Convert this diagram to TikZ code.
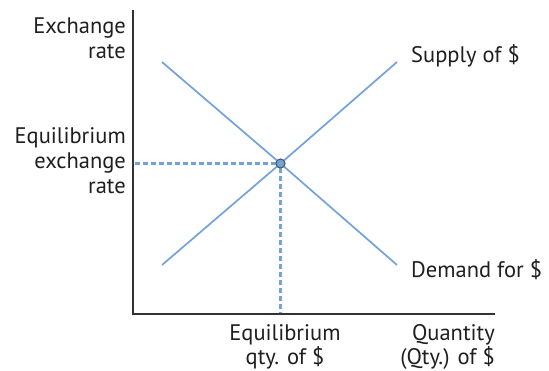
\documentclass[tikz,border=0pt]{standalone}
\usepackage{fontspec}
\setmainfont{PT Sans}
\definecolor{curve}{HTML}{72A2D9}
\definecolor{dotedge}{HTML}{4A5560}
\begin{document}
\begin{tikzpicture}[x=1pt,y=-1pt,
  lbl/.style={font=\fontsize{22.5}{25}\selectfont, text=black!88, inner sep=0pt},
  rlbl/.style={lbl, anchor=base east},
  llbl/.style={lbl, anchor=base west},
  clbl/.style={lbl, anchor=base},
  curveline/.style={draw=curve, line width=1.7pt},
  guide/.style={draw=curve, line width=2.3pt, dash pattern=on 5pt off 3pt},
  axisline/.style={draw=black!80, line width=1.2pt},
  eqdot/.style={circle, fill=curve, draw=dotedge, line width=0.9pt, minimum size=9pt, inner sep=0pt}]
\useasboundingbox (0,0) rectangle (549,370);
\coordinate (ytop) at (133,10);
\coordinate (orig) at (133,314);
\coordinate (xend) at (495,314);
\draw[axisline] (ytop) -- (orig) -- (xend);
\coordinate (dA) at (162,62);
\coordinate (dB) at (397,265);
\coordinate (sA) at (162,265);
\coordinate (sB) at (397,62);
\coordinate (eqy) at (135,163.5);
\coordinate (eqx) at (280.5,313);
\node[eqdot] (eq) at (280.5,163.5) {};
\draw[guide] (eqy) -- (eq.west);
\draw[guide] (eq.south) -- (eqx);
\draw[curveline] (dA) -- (eq.center) -- (dB);
\draw[curveline] (sA) -- (eq.center) -- (sB);
\node[eqdot] (eqtop) at (eq) {};
\node[rlbl] (y1) at (126,33) {Exchange};
\node[rlbl] (y2) at (126,58) {rate};
\node[rlbl] (e1) at (126,143) {Equilibrium};
\node[rlbl] (e2) at (126,168) {exchange};
\node[rlbl] (e3) at (126,193) {rate};
\node[llbl] (slab) at (411,62) {Supply of \$};
\node[llbl] (dlab) at (411,277) {Demand for \$};
\node[clbl] (q1) at (285,340) {Equilibrium};
\node[clbl] (q2) at (285,364) {qty. of \$};
\node[rlbl] (x1) at (495,340) {Quantity};
\node[rlbl] (x2) at (495,364) {(Qty.) of \$};
\end{tikzpicture}
\end{document}
